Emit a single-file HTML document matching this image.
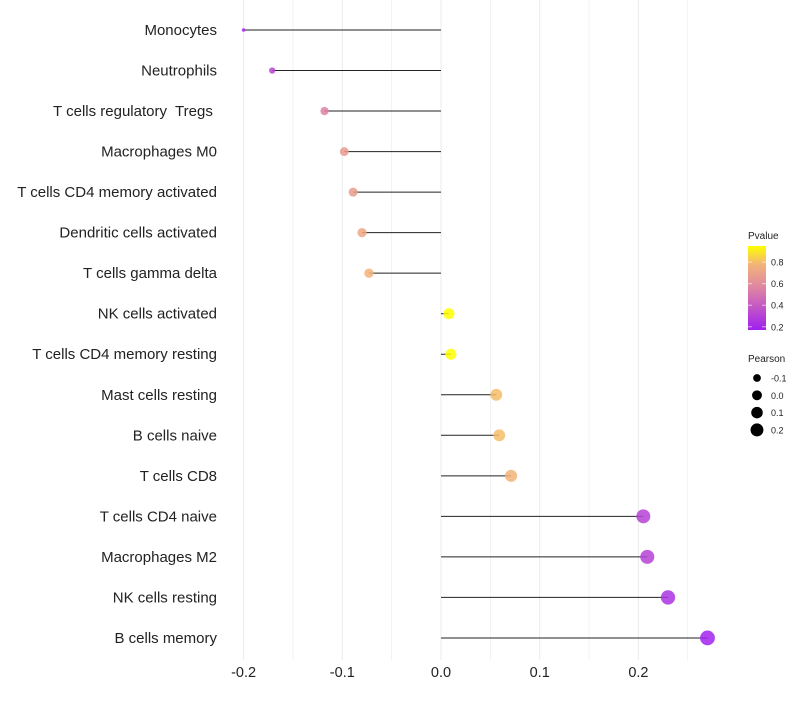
<!DOCTYPE html>
<html><head><meta charset="utf-8"><style>
body{margin:0;background:#fff;font-family:"Liberation Sans",sans-serif}
text{white-space:pre}
</style></head><body>
<svg id="c" width="800" height="700" xmlns="http://www.w3.org/2000/svg"></svg>
<script>
const categories=["Monocytes","Neutrophils","T cells regulatory  Tregs ","Macrophages M0","T cells CD4 memory activated","Dendritic cells activated","T cells gamma delta","NK cells activated","T cells CD4 memory resting","Mast cells resting","B cells naive","T cells CD8","T cells CD4 naive","Macrophages M2","NK cells resting","B cells memory"];
const pearson=[-0.2,-0.171,-0.118,-0.098,-0.089,-0.08,-0.073,0.008,0.01,0.056,0.059,0.071,0.205,0.209,0.23,0.27];
const pvalue=[0.2,0.32,0.55,0.66,0.68,0.72,0.78,0.95,0.95,0.8,0.8,0.78,0.3,0.3,0.24,0.18];
const xTicks=[-0.2,-0.1,0.0,0.1,0.2];
const xTickLabels=["-0.2","-0.1","0.0","0.1","0.2"];
const pTicks=[0.2,0.4,0.6,0.8];
const sizeTicks=[-0.1,0.0,0.1,0.2];
const svg=document.getElementById('c');const NS="http://www.w3.org/2000/svg";
function mk(t,a,p){const e=document.createElementNS(NS,t);for(const k in a)e.setAttribute(k,a[k]);(p||svg).appendChild(e);return e;}
const x=v=>441+v*987;
const y=i=>30+i*40.53;
const r=v=>1.8+5.6*Math.sqrt(Math.max(0,(v+0.2)/0.47));
const stops=[[0.17,[160,32,240]],[0.55,[221,130,165]],[0.78,[242,180,120]],[0.95,[255,255,0]]];
function col(p){if(p<=stops[0][0])return `rgb(${stops[0][1]})`;for(let i=1;i<stops.length;i++){if(p<=stops[i][0]){const a=stops[i-1],b=stops[i];const t=(p-a[0])/(b[0]-a[0]);return `rgb(${a[1].map((c,j)=>Math.round(c+(b[1][j]-c)*t))})`;}}return `rgb(${stops[stops.length-1][1]})`;}
for(let v=-0.2;v<=0.251;v+=0.05){const g=mk('line',{x1:x(v),x2:x(v),y1:0,y2:660,stroke:'#ebebeb','stroke-width':Math.abs(Math.round(v*100))%10===0?1:0.6});
}
xTicks.forEach((v,i)=>{const t=mk('text',{x:x(v),y:677,'text-anchor':'middle','font-size':14.5,fill:'#222'});t.textContent=xTickLabels[i];
});
categories.forEach((c,i)=>{
const t=mk('text',{x:217,y:y(i)+5,'text-anchor':'end','font-size':15,fill:'#222'});t.textContent=c;

const l=mk('line',{x1:x(0),x2:x(pearson[i]),y1:y(i),y2:y(i),stroke:'#222','stroke-width':1});

const d=mk('circle',{cx:x(pearson[i]),cy:y(i),r:r(pearson[i]),fill:col(pvalue[i]),'fill-opacity':0.85});
});
let t=mk('text',{x:748,y:239,'font-size':10,fill:'#222'});t.textContent='Pvalue';

const defs=mk('defs',{});const lg=mk('linearGradient',{id:'g',x1:0,y1:1,x2:0,y2:0},defs);
const pMin=0.17,pMax=0.95;
stops.forEach(s=>mk('stop',{offset:(s[0]-pMin)/(pMax-pMin),'stop-color':`rgb(${s[1]})`},lg));
const py=p=>330-(p-pMin)/(pMax-pMin)*84;
const bar=mk('rect',{x:748,y:246,width:18,height:84,fill:'url(#g)'});

pTicks.forEach(p=>{mk('line',{x1:748,x2:752,y1:py(p),y2:py(p),stroke:'#fff','stroke-opacity':0.6});mk('line',{x1:762,x2:766,y1:py(p),y2:py(p),stroke:'#fff','stroke-opacity':0.6});
const tt=mk('text',{x:771,y:py(p)+3.5,'font-size':9,fill:'#222'});tt.textContent=p.toFixed(1);
});
t=mk('text',{x:748,y:362,'font-size':10,fill:'#222'});t.textContent='Pearson';

sizeTicks.forEach((v,i)=>{const cy=378+i*17.3;const c=mk('circle',{cx:757,cy:cy,r:r(v)-0.5,fill:'#000'});

const tt=mk('text',{x:771,y:cy+3.5,'font-size':9,fill:'#222'});tt.textContent=v.toFixed(1);
});
</script>
</body></html>
